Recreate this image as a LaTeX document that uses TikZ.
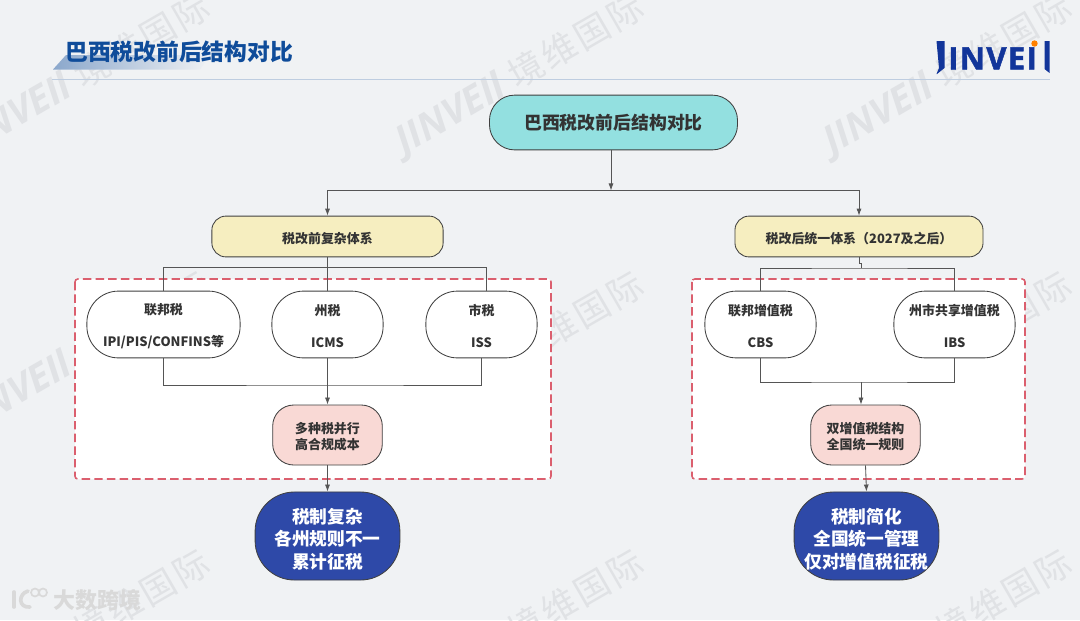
\documentclass[tikz,border=0pt]{standalone}
\usepackage{fontspec}
\setmainfont{Noto Sans CJK SC}
\newfontfamily\markfont[LetterSpace=9]{Noto Sans CJK SC}
\newfontfamily\marklatin[BoldFeatures={FakeBold=1}]{Open Sans}
\newfontfamily\brandfont[LetterSpace=4.5,BoldFeatures={FakeBold=1.5}]{Open Sans}
\usepackage{xcolor}
\usetikzlibrary{arrows.meta,positioning,calc}
\definecolor{pagegray}{HTML}{F0F2F4}
\definecolor{markgray}{HTML}{E0E2E5}
\definecolor{titleblue}{HTML}{0F4C9A}
\definecolor{brandblue}{HTML}{12359A}
\definecolor{rootcyan}{HTML}{93E0E0}
\definecolor{branchyellow}{HTML}{F6EEC0}
\definecolor{sumpink}{HTML}{F9D9D5}
\definecolor{resultblue}{HTML}{2E49A8}
\definecolor{panelred}{HTML}{DB5F6E}
\definecolor{wiregray}{HTML}{555555}

\begin{document}
\begin{tikzpicture}[
    x=0.025cm, y=-0.025cm,
    box/.style={draw=black!75, line width=0.6pt, align=center, text=black!80, font=\fontsize{9.2}{11.5}\selectfont\bfseries, inner sep=0pt},
    rootbox/.style={box, fill=rootcyan, rounded corners=18pt, minimum width=6.2cm, minimum height=1.37cm, font=\fontsize{12.7}{15}\selectfont\bfseries},
    branchbox/.style={box, fill=branchyellow, rounded corners=10pt, minimum height=1.02cm, execute at begin node={\rule{0pt}{11pt}}},
    taxbox/.style={box, fill=white, rounded corners=22.5pt, minimum height=1.67cm, execute at begin node={\rule{0pt}{33pt}}},
    sumbox/.style={box, fill=sumpink, rounded corners=15pt, minimum width=2.74cm, minimum height=1.5cm, execute at begin node={\rule{0pt}{22pt}}},
    resultbox/.style={box, fill=resultblue, text=white, rounded corners=28pt, minimum width=3.62cm, minimum height=2.2cm, font=\fontsize{12.6}{16.3}\selectfont\bfseries, execute at begin node={\rule{0pt}{48pt}}},
    panel/.style={draw=panelred, fill=white, line width=1.1pt, dash pattern=on 6pt off 3pt, rounded corners=2pt},
    wire/.style={draw=wiregray, line width=0.6pt},
    flow/.style={wire, -{Latex[length=5pt,width=3.6pt]}},
    watermark/.style={font=\fontsize{25}{25}\selectfont, text=markgray, rotate=30, inner sep=0pt, anchor=east}
]
    % Page and watermarks
    \fill[pagegray] (0,0) rectangle (1080,620);
    \useasboundingbox (0,0) rectangle (1080,620);
    \foreach \wx in {208,642,1070} {
        \foreach \wy in {5,283,561} {
            \node[watermark] (mark-\wx-\wy) at (\wx,\wy) {{\fontsize{27}{27}\selectfont\marklatin\bfseries\itshape JINVEIl}\hspace{7pt}{\markfont 境维国际}};
        }
    }

    % Header
    \shade[left color=titleblue!45!pagegray, right color=pagegray] (53,69.5) -- (66,55) -- (210,55) -- (200,69.5) -- cycle;
    \node[font=\fontsize{16.2}{18}\selectfont\bfseries, text=titleblue, anchor=west, inner sep=0pt] (title) at (65,52) {巴西税改前后结构对比};
    \coordinate (ruleleft) at (52,79.5);
    \coordinate (ruleright) at (1050,79.5);
    \draw[draw=titleblue!22!pagegray, line width=0.6pt] (ruleleft) -- (ruleright);

    % Brand mark
    \fill[brandblue] (936.5,41) -- (944.5,41) -- (944.5,68) -- (937,74) -- (936.5,74) -- (939,68) -- cycle;
    \fill[brandblue] (1044.5,41) -- (1049.5,41) -- (1049.5,73) -- (1044.5,69) -- cycle;
    \node[font=\fontsize{22}{22}\selectfont\brandfont\bfseries, text=brandblue, anchor=base west, inner sep=0pt] (brand) at (948,69.5) {INVEI};
    \fill[orange] (1034.5,43.5) circle (3.2);

    % Footer mark
    \draw[draw=black!15, line width=2.6pt, line cap=round] (14,592) -- (14,607);
    \draw[draw=black!15, line width=2.6pt, line cap=round] (28,591) .. controls (18,594) and (18,608) .. (30,607);
    \draw[draw=black!15, line width=1.2pt] (35,592.5) circle (4) (43,592.5) circle (4);
    \node[font=\fontsize{15.6}{16}\selectfont\bfseries, text=black!15, anchor=west, inner sep=0pt] (footer) at (53,600) {大数跨境};

    % Dashed panels
    \draw[panel] (75,279) rectangle (551,479);
    \draw[panel] (692,279) rectangle (1025,479);

    % Root
    \node[rootbox] (root) at (613.5,122.5) {巴西税改前后结构对比};

    % Before the reform
    \node[branchbox, minimum width=5.78cm] (before) at (327.5,236.5) {税改前复杂体系};
    \node[taxbox, minimum width=3.83cm] (federal) at (163.5,324.5) {联邦税\\[11.5pt]IPI/PIS/CONFINS等};
    \node[taxbox, minimum width=2.78cm] (state) at (327.5,324.5) {州税\\[11.5pt]ICMS};
    \node[taxbox, minimum width=2.78cm] (city) at (481.5,324.5) {市税\\[11.5pt]ISS};
    \node[sumbox] (beforesum) at (327.5,435) {多种税并行\\高合规成本};
    \node[resultbox] (beforeres) at (327.5,536) {税制复杂\\各州规则不一\\累计征税};

    % After the reform
    \node[branchbox, minimum width=6.2cm] (after) at (859,236.5) {税改后统一体系（2027及之后）};
    \node[taxbox, minimum width=2.78cm] (fedvat) at (760.5,324.5) {联邦增值税\\[11.5pt]CBS};
    \node[taxbox, minimum width=3.03cm] (sharedvat) at (954.5,324.5) {州市共享增值税\\[11.5pt]IBS};
    \node[sumbox] (aftersum) at (865.5,435) {双增值税结构\\全国统一规则};
    \node[resultbox] (afterres) at (866.5,536) {税制简化\\全国统一管理\\仅对增值税征税};

    % Wires: root to branches
    \coordinate (roottee) at (611,190.5);
    \draw[flow] (roottee|-root.south) -- (roottee);
    \draw[flow] (roottee) -| (before.north);
    \draw[flow] (roottee) -| (after.north);

    % Wires: before the reform
    \coordinate (beforecap) at (486,267);
    \coordinate (beforemerge) at (327.5,385);
    \draw[wire] (before.south) -- (state.north);
    \draw[wire] (federal.north) |- (beforecap) -- (beforecap|-city.north);
    \draw[wire] (federal.south) |- (beforemerge) -| (city.south);
    \draw[flow] (state.south) -- (beforesum.north);
    \draw[flow] (beforesum.south) -- (beforeres.north);

    % Wires: after the reform
    \coordinate (afterbar) at (861.5,268);
    \coordinate (aftermerge) at (861,382);
    \draw[wire] (after.south) -- ++(0,6) -| (afterbar);
    \draw[wire] (fedvat.north) |- (afterbar) -| (sharedvat.north);
    \draw[wire] (fedvat.south) |- (aftermerge) -| (sharedvat.south);
    \draw[flow] (aftermerge) -- (aftermerge|-aftersum.north);
    \draw[flow] (aftersum.south) -- (afterres.north);

\end{tikzpicture}
\end{document}
